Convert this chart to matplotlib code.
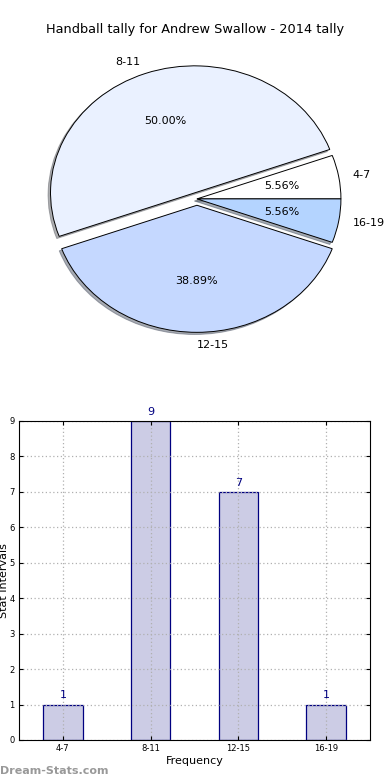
import matplotlib
matplotlib.use("Agg")
import matplotlib.pyplot as plt

# data
labels = ["4-7", "8-11", "12-15", "16-19"]
counts = [1, 9, 7, 1]
pie_colors = ["#ffffff", "#eaf1ff", "#c5d8ff", "#b4d4ff"]
explode = [0, 0.05, 0.05, 0]
title = "Handball tally for Andrew Swallow - 2014 tally"

fig = plt.figure(figsize=(3.9, 7.8), dpi=100)

# ── pie ─────────────────────────────────────
ax1 = fig.add_axes([0.062, 0.5495, 0.886, 0.391])
wedges, texts, autotexts = ax1.pie(
    counts, labels=labels, colors=pie_colors, explode=explode,
    autopct="%.2f%%", shadow={"ox": -0.012, "oy": -0.012, "shade": 0.6},
    startangle=0,
    wedgeprops=dict(edgecolor="black", linewidth=0.7),
    textprops=dict(fontsize=8),
)
ax1.set_aspect("auto")
ax1.set_xlim(-1.2, 1.2)
ax1.set_ylim(-1.2, 1.2)
fig.text(0.5, 1 - 30 / 780, title, ha="center", va="center", fontsize=9.3)

# ── bars ────────────────────────────────────
ax2 = fig.add_axes([0.0487, 0.0513, 0.9, 0.409])
x = range(len(labels))
ax2.bar(x, counts, width=0.45, color="#cccce5",
        edgecolor="#000080", linewidth=0.9)
for xi, c in zip(x, counts):
    ax2.text(xi, c + 0.12, str(c), ha="center", va="bottom",
             color="#000080", fontsize=8)
ax2.set_xlim(-0.5, 3.5)
ax2.set_ylim(0, 9)
ax2.set_yticks(range(10))
ax2.set_xticks(list(x))
ax2.set_xticklabels(labels)
ax2.tick_params(labelsize=6, direction="in", length=3, top=True, right=True,
                pad=3)
# grid over the bars but under the spines
ax2.set_axisbelow("line")
ax2.grid(True, linestyle=(0, (1, 2)), color="#b0b0b0", linewidth=0.9)
ax2.set_xlabel("Frequency", fontsize=8, labelpad=2)
ax2.set_ylabel("Stat Intervals", fontsize=8, labelpad=0)

fig.text(0.0, 1 - 771 / 780, "Dream-Stats.com", ha="left", va="center",
         fontsize=8, color="#999999", fontweight="bold")

fig.savefig("out.png", dpi=100)
